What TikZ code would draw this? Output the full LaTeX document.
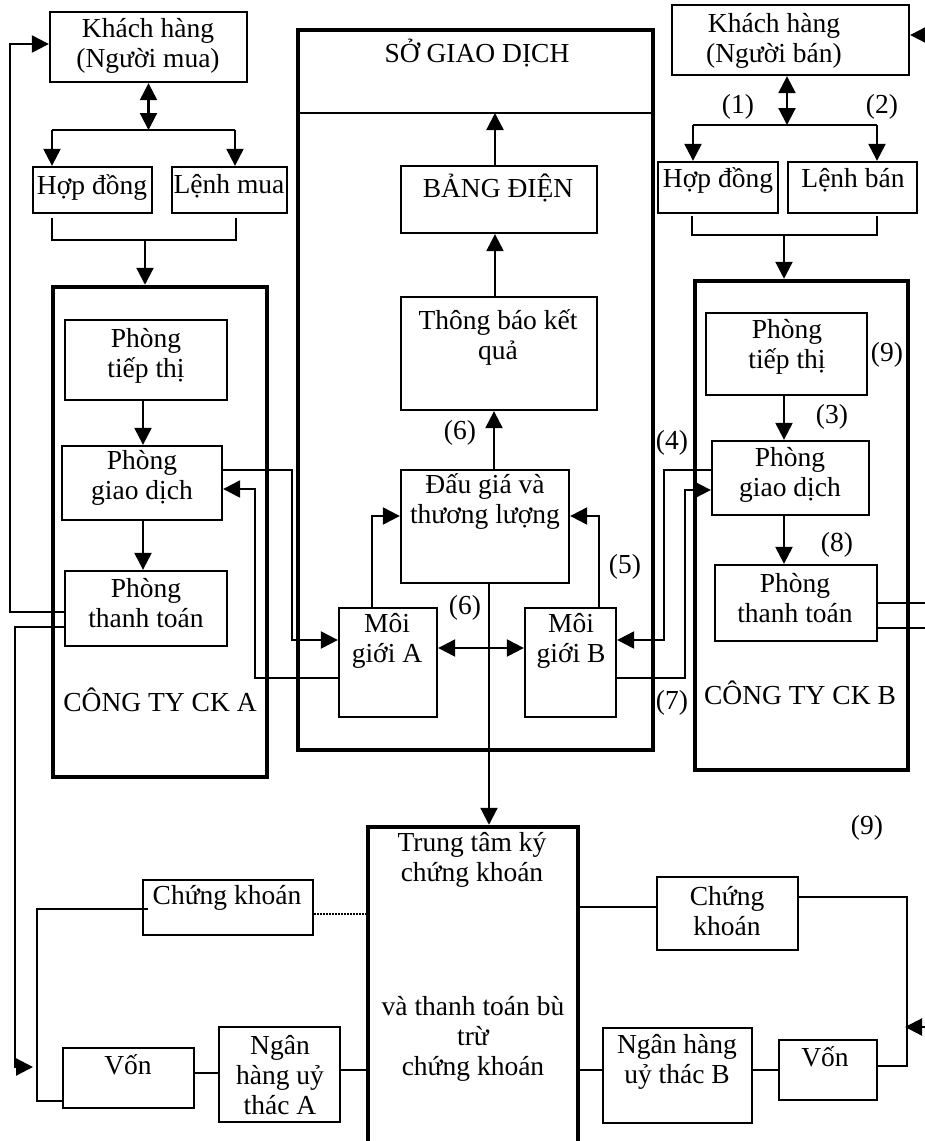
\documentclass[tikz,border=0pt]{standalone}
\usepackage{fontspec}
\setmainfont{Liberation Serif}
\usetikzlibrary{arrows.meta}
\begin{document}
\begin{tikzpicture}[x=1pt,y=-1pt,
  every node/.style={font=\fontsize{27.5}{30}\selectfont, inner sep=0pt},
  box/.style={draw, line width=2.3pt, inner sep=0pt},
  bigbox/.style={draw, line width=4.5pt, inner sep=0pt},
  txt/.style={align=center},
  conn/.style={line width=2.2pt},
  arr/.style={conn, -{Triangle[length=17pt,width=17pt]}},
  dbl/.style={conn, {Triangle[length=17pt,width=17pt]}-{Triangle[length=17pt,width=17pt]}},
  dots/.style={line width=2.5pt, dash pattern=on 1.5pt off 1.5pt},
]
\useasboundingbox[fill=white] (0,0) rectangle (925,1141);

% ---------- boxes ----------
\node[box, minimum width=197pt, minimum height=70pt] (khA) at (148.5,47) {};
\node[box, minimum width=119pt, minimum height=46pt] (hdA) at (92.5,190) {};
\node[box, minimum width=115pt, minimum height=46pt] (lmA) at (229.5,190) {};
\node[bigbox, minimum width=214pt, minimum height=490pt] (ctyA) at (160,532) {};
\node[box, minimum width=162pt, minimum height=80pt] (ttA) at (146,360) {};
\node[box, minimum width=160pt, minimum height=74pt] (gdA) at (142,483) {};
\node[box, minimum width=162pt, minimum height=75pt] (tnA) at (146,608.5) {};

\node[bigbox, minimum width=355pt, minimum height=720pt] (sgd) at (475.5,390) {};
\node[box, minimum width=196pt, minimum height=67pt] (bd) at (499,199.5) {};
\node[box, minimum width=196pt, minimum height=113pt] (tb) at (499,353.5) {};
\node[box, minimum width=168pt, minimum height=113pt] (dg) at (485,526.5) {};
\node[box, minimum width=98pt, minimum height=109pt] (mgA) at (388,662.5) {};
\node[box, minimum width=91pt, minimum height=109pt] (mgB) at (570.5,662.5) {};

\node[box, minimum width=237pt, minimum height=70pt] (khB) at (790.5,40) {};
\node[box, minimum width=120pt, minimum height=51pt] (hdB) at (718,187.5) {};
\node[box, minimum width=129pt, minimum height=51pt] (lbB) at (852.5,187.5) {};
\node[bigbox, minimum width=213pt, minimum height=489pt] (ctyB) at (801.5,525.5) {};
\node[box, minimum width=161pt, minimum height=82pt] (ttB) at (786.5,354) {};
\node[box, minimum width=157pt, minimum height=74pt] (gdB) at (790.5,478) {};
\node[box, minimum width=162pt, minimum height=76pt] (tnB) at (796,603) {};

\node[box, minimum width=170pt, minimum height=55pt] (ckA) at (228,907.5) {};
\node[box, minimum width=131pt, minimum height=60pt] (vonA) at (128.5,1078) {};
\node[box, minimum width=121pt, minimum height=95pt] (nhA) at (279.5,1074.5) {};
\node[bigbox, minimum width=210pt, minimum height=333pt] (tt) at (473,993.5) {};
\node[box, minimum width=141pt, minimum height=73pt] (ckB) at (727.5,913.5) {};
\node[box, minimum width=149pt, minimum height=95pt] (nhB) at (677.5,1075.5) {};
\node[box, minimum width=98pt, minimum height=60pt] (vonB) at (828,1070) {};

% ---------- texts ----------
\node[txt] (t1) at (148,46) {Khách hàng\\(Người mua)};
\node (t2) at (92,188) {Hợp đồng};
\node (t3) at (229,186) {Lệnh mua};
\node[txt] (t4) at (146,356) {Phòng\\tiếp thị};
\node[txt] (t5) at (142,478) {Phòng\\giao dịch};
\node[txt] (t6) at (146,603) {Phòng\\thanh toán};
\node (t7) at (160,700) {CÔNG TY CK A};
\node (t8) at (477,53) {SỞ GIAO DỊCH};
\node (t9) at (498,188) {BẢNG ĐIỆN};
\node[txt] (t10) at (498,337) {Thông báo kết\\quả};
\node[txt] (t11) at (485,502) {Đấu giá và\\thương lượng};
\node[txt] (t12) at (387,641) {Môi\\giới A};
\node[txt] (t13) at (571,641) {Môi\\giới B};
\node[txt] (t14) at (774,41) {Khách hàng\\(Người bán)};
\node (t15) at (718,181) {Hợp đồng};
\node (t16) at (853,180) {Lệnh bán};
\node[txt] (t17) at (787,347) {Phòng\\tiếp thị};
\node[txt] (t18) at (790,475) {Phòng\\giao dịch};
\node[txt] (t19) at (795,598) {Phòng\\thanh toán};
\node (t20) at (800,693) {CÔNG TY CK B};
\node (t21) at (227,898) {Chứng khoán};
\node (t22) at (128,1065) {Vốn};
\node[txt] (t23) at (280,1075) {Ngân\\hàng uỷ\\thác A};
\node[txt] (t24) at (472,860) {Trung tâm ký\\chứng khoán};
\node[txt] (t25) at (473,1039) {và thanh toán bù\\trừ\\chứng khoán};
\node[txt] (t26) at (727,911) {Chứng\\khoán};
\node[txt] (t27) at (677,1062) {Ngân hàng\\uỷ thác B};
\node (t28) at (825,1057) {Vốn};

% labels
\node (l6a) at (460,433) {(6)};
\node (l6b) at (465,608) {(6)};
\node (l5) at (625,567) {(5)};
\node (l4) at (672,443) {(4)};
\node (l7) at (672,703) {(7)};
\node (l1) at (738,107) {(1)};
\node (l2) at (882,107) {(2)};
\node (l9a) at (887,355) {(9)};
\node (l3) at (832,417) {(3)};
\node (l8) at (837,545) {(8)};
\node (l9b) at (867,828) {(9)};

% ---------- connectors: top left ----------
\coordinate (jA) at (148.5,130);
\draw[dbl] (khA.south) -- (jA);
\draw[conn] (52,130) -- (235,130);
\draw[arr] (52,130) -- (hdA.north -| 52,0);
\draw[arr] (235,130) -- (lmA.north -| 235,0);
\draw[conn] (52,218) -- (52,240) -- (236,240) -- (236,218);
\coordinate (brA) at (145,240);
\draw[arr] (brA) -- (ctyA.north -| brA);

% ---------- top right ----------
\coordinate (jB) at (787,125);
\draw[dbl] (khB.south -| jB) -- (jB);
\draw[conn] (693,125) -- (877,125);
\draw[arr] (693,125) -- (hdB.north -| 693,0);
\draw[arr] (877,125) -- (lbB.north -| 877,0);
\draw[conn] (692,216) -- (692,235) -- (877,235) -- (877,216);
\coordinate (brB) at (784,235);
\draw[arr] (brB) -- (ctyB.north -| brB);
\coordinate (inKB) at (935,35);
\draw[arr] (inKB) -- (khB.east |- inKB);

% ---------- company A ----------
\draw[arr] (ttA.south -| 143,0) -- (gdA.north -| 143,0);
\draw[arr] (gdA.south -| 143,0) -- (tnA.north -| 143,0);
\draw[arr] (tnA.west |- 0,612) -| (10,44) -- (khA.west |- 0,44);
\coordinate (vAin) at (33,1067);
\draw[arr] (tnA.west |- 0,627) -| (15,1067) -- (vAin);
\draw[arr] (gdA.east |- 0,470) -| (292,640) -- (mgA.west |- 0,640);
\draw[arr] (mgA.west |- 0,678) -| (255,489) -- (gdA.east |- 0,489);

% ---------- exchange ----------
\coordinate (div) at (495,113);
\draw[line width=2.3pt] (sgd.west |- div) -- (sgd.east |- div);
\draw[arr] (bd.north -| div) -- (div);
\draw[arr] (tb.north -| div) -- (bd.south -| div);
\draw[arr] (dg.north -| 494,0) -- (tb.south -| 494,0);
\draw[arr] (mgA.north -| 372,0) |- (dg.west |- 0,516);
\draw[arr] (mgB.north -| 599,0) |- (dg.east |- 0,516);
\draw[dbl] (mgA.east |- 0,648) -- (mgB.west |- 0,648);
\draw[arr] (dg.south -| 489,0) -- (tt.north -| 489,0);

% ---------- company B ----------
\draw[arr] (ttB.south -| 784,0) -- (gdB.north -| 784,0);
\draw[arr] (gdB.south -| 784,0) -- (tnB.north -| 784,0);
\draw[arr] (mgB.east |- 0,678) -| (685,490) -- (gdB.west |- 0,490);
\draw[arr] (gdB.west |- 0,470) -| (664,640) -- (mgB.east |- 0,640);
\coordinate (outB1) at (935,603);
\coordinate (outB2) at (935,628);
\draw[conn] (tnB.east |- outB1) -- (outB1);
\draw[conn] (tnB.east |- outB2) -- (outB2);

% ---------- bottom ----------
\draw[dots] (ckA.east |- 0,914) -- (tt.west |- 0,914);
\draw[conn] ([xshift=6pt]ckA.west |- 0,909) -| (37,1101) -- (vonA.west |- 0,1101);
\draw[conn] (vonA.east |- 0,1073) -- (nhA.west |- 0,1073);
\draw[conn] (nhA.east |- 0,1070) -- (tt.west |- 0,1070);
\draw[conn] (tt.east |- 0,907) -- (ckB.west |- 0,907);
\draw[conn] (tt.east |- 0,1070) -- (nhB.west |- 0,1070);
\draw[conn] (nhB.east |- 0,1070) -- (vonB.west |- 0,1070);
\draw[conn] (ckB.east |- 0,897) -| (907,1066) -- (vonB.east |- 0,1066);
\coordinate (inVB) at (935,1027);
\draw[arr] (inVB) -- (905,1027);
\end{tikzpicture}
\end{document}
